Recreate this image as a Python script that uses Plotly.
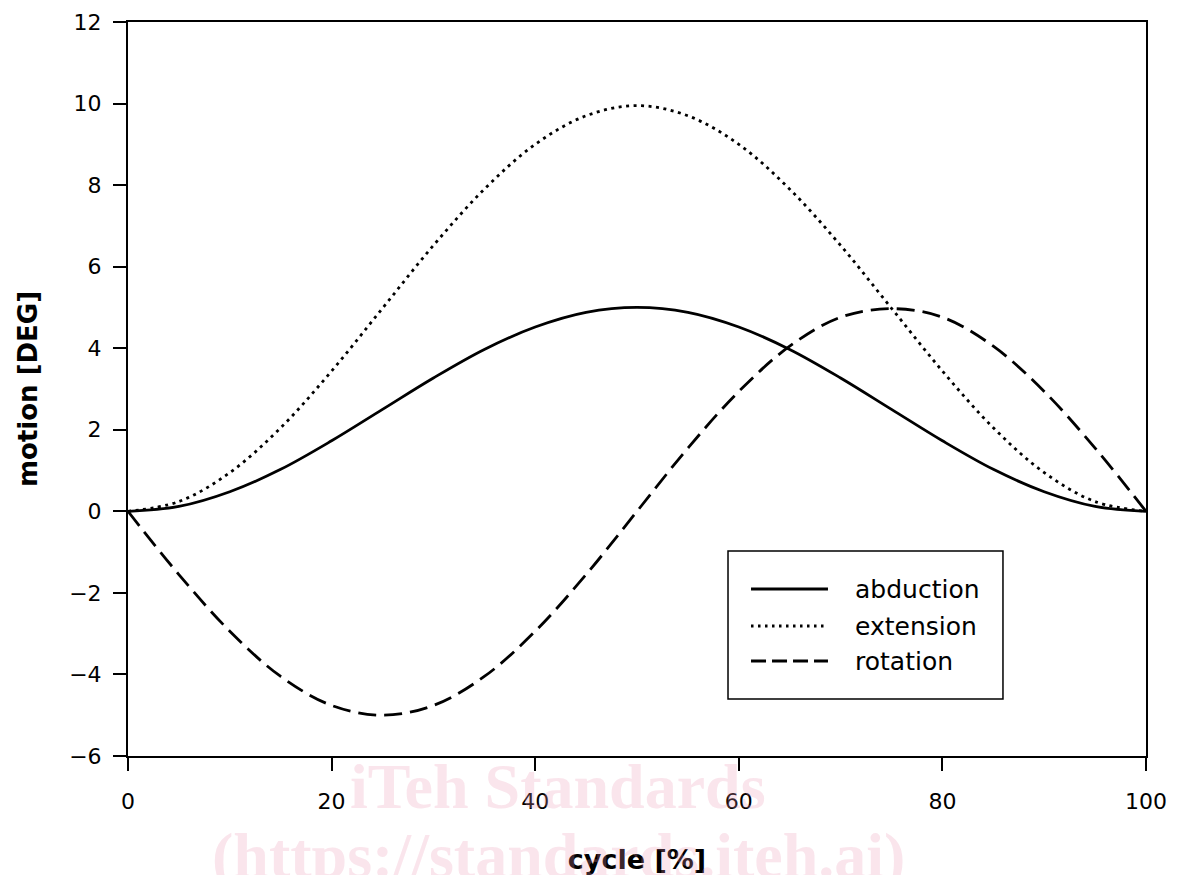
import plotly.graph_objects as go

cycle = [0, 5, 10, 15, 20, 25, 30, 35, 40, 45, 50, 55, 60, 65, 70, 75, 80, 85, 90, 95, 100]
abduction = [0, 0.12, 0.48, 1.03, 1.73, 2.5, 3.27, 3.97, 4.52, 4.88, 5.0,
             4.88, 4.52, 3.97, 3.27, 2.5, 1.73, 1.03, 0.48, 0.12, 0]
extension = [0, 0.24, 0.95, 2.05, 3.44, 4.98, 6.52, 7.9, 9.0, 9.7, 9.95,
             9.7, 9.0, 7.9, 6.52, 4.98, 3.44, 2.05, 0.95, 0.24, 0]
rotation = [0, -1.55, -2.94, -4.05, -4.76, -5.0, -4.76, -4.05, -2.94, -1.55, 0,
            1.55, 2.94, 4.05, 4.76, 4.97, 4.76, 4.05, 2.94, 1.55, 0]

series_names = ["abduction", "extension", "rotation"]
series_values = [abduction, extension, rotation]
series_dash = ["solid", "3px,4.5px", "18px,8px"]
legend_dash = ["solid", "2.5px,4.5px", "15px,6px"]

fig = go.Figure()
for name, vals, dash in zip(series_names, series_values, series_dash):
    fig.add_trace(go.Scatter(
        x=cycle, y=vals, name=name, mode="lines", showlegend=False,
        line=dict(color="black", width=2.8, dash=dash, shape="spline", smoothing=1.0),
    ))

font_family = "DejaVu Sans"
fig.update_layout(
    width=1161, height=867,
    margin=dict(l=120, r=23, t=14, b=119, autoexpand=False),
    plot_bgcolor="white", paper_bgcolor="white",
    font=dict(family=font_family, color="black", size=22),
    showlegend=False,
    xaxis=dict(
        range=[0, 100], tickvals=[0, 20, 40, 60, 80, 100],
        showline=True, linecolor="black", linewidth=2, mirror=True,
        ticks="outside", ticklen=13, tickwidth=2, tickcolor="black",
        showgrid=False, zeroline=False, ticklabelstandoff=12, automargin=False,
        tickfont=dict(size=22),
        title=dict(text="<b>cycle [%]</b>", font=dict(size=27), standoff=40),
    ),
    yaxis=dict(
        range=[-6, 12], tickvals=[-6, -4, -2, 0, 2, 4, 6, 8, 10, 12],
        ticktext=["\u22126", "\u22124", "\u22122", "0", "2", "4", "6", "8", "10", "12"],
        showline=True, linecolor="black", linewidth=2, mirror=True,
        ticks="outside", ticklen=13, tickwidth=2, tickcolor="black",
        showgrid=False, zeroline=False, ticklabelstandoff=7, automargin=False,
        tickfont=dict(size=22),
        title=dict(text="<b>motion [DEG]</b>", font=dict(size=26), standoff=24),
    ),
)

# legend box (drawn in paper coordinates)
fig.add_shape(type="rect", xref="paper", yref="paper",
              x0=0.5894, x1=0.8595, y0=0.0777, y1=0.2793,
              line=dict(color="black", width=1.5), fillcolor="white", layer="above")
legend_y = [0.2275, 0.1771, 0.1294]
for name, dash, ly in zip(series_names, legend_dash, legend_y):
    fig.add_shape(type="line", xref="paper", yref="paper",
                  x0=0.612, x1=0.6876, y0=ly, y1=ly,
                  line=dict(color="black", width=2.8, dash=dash), layer="above")
    fig.add_annotation(text=name, xref="paper", yref="paper",
                       x=0.7122, y=ly, xanchor="left", yanchor="middle",
                       showarrow=False, font=dict(family=font_family, size=25, color="black"))

wm_font = dict(family="Liberation Serif", size=64, color="rgba(235,150,180,0.25)")
fig.add_annotation(text="<b>iTeh Standards</b>", xref="paper", yref="paper",
                   x=0.4224, y=-0.041, xanchor="center", yanchor="middle",
                   showarrow=False, font=wm_font)
fig.add_annotation(text="<b>(https://standards.iteh.ai)</b>", xref="paper", yref="paper",
                   x=0.4224, y=-0.136, xanchor="center", yanchor="middle",
                   showarrow=False, font=wm_font)

fig.write_html("out.html")
